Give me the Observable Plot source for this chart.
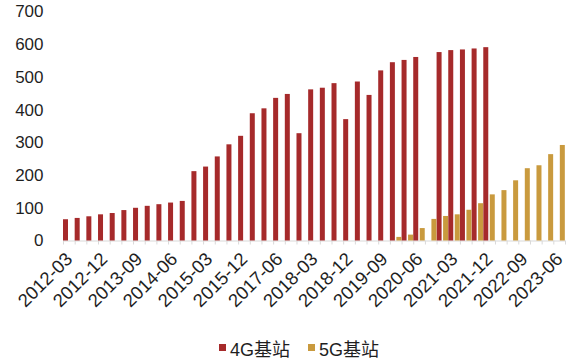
<!DOCTYPE html>
<html><head><meta charset="utf-8">
<script src="https://cdn.jsdelivr.net/npm/d3@7"></script>
<script src="https://cdn.jsdelivr.net/npm/@observablehq/plot@0.6"></script>
<style>
body{margin:0;background:#fff;}
#chart{width:576px;}
#leg{display:flex;justify-content:center;padding-left:40px;width:536px;}
#leg svg{margin-right:4px !important;}
g[aria-label^="x-axis"] text{font-size:18.5px;}
</style></head><body><div id="chart"></div><div id="leg"></div>
<script>
const categories = [
  "2012-03","2012-06","2012-09","2012-12","2013-03","2013-06","2013-09","2013-12",
  "2014-03","2014-06","2014-09","2014-12","2015-03","2015-06","2015-09","2015-12",
  "2016-06","2016-12",
  "2017-06","2017-09","2017-12","2018-03","2018-06","2018-09","2018-12","2019-03",
  "2019-06","2019-09","2019-12","2020-03","2020-06","2020-09","2020-12","2021-03",
  "2021-06","2021-09","2021-12","2022-03","2022-06","2022-09","2022-12","2023-03","2023-06"
];
const fourG = [65,69,74,80,84,93,100,106,111,116,121,212,226,257,294,320,389,404,436,448,
  328,462,467,481,371,486,445,520,545,552,561,null,576,582,584,587,591,
  null,null,null,null,null,null];
const fiveG = [null,null,null,null,null,null,null,null,null,null,null,null,null,null,
  null,null,null,null,null,null,null,null,null,null,null,null,null,null,
  11,18,38,66,75,80,94,114,141,154,184,221,230,264,292];
const yTicks = [0,100,200,300,400,500,600,700];
const labelCats = categories.filter((d,i)=>i%3===0);
const seriesNames = ["4G基站","5G基站"];
const seriesColors = ["#A62A2B","#C99A3E"];

const font = "'Liberation Sans', Arial, 'Noto Sans CJK SC', sans-serif";
const rows4 = categories.map((c,i)=>({date:c, value:fourG[i]})).filter(d=>d.value!=null);
const rows5 = categories.map((c,i)=>({date:c, value:fiveG[i]})).filter(d=>d.value!=null);
const W = 576, ML = 63, MR = 11;
const step = (W - ML - MR) / categories.length;
const last = categories[categories.length-1];

const chart = Plot.plot({
  width: W, height: 331, marginTop: 11.5, marginBottom: 90.5, marginLeft: ML, marginRight: MR,
  style: {fontFamily: font, fontSize: "17px", color: "#1f1f1f", background: "#fff"},
  x: {domain: categories, padding: 0, round: false, ticks: labelCats, tickRotate: -45,
      tickSize: 0, tickPadding: 15, label: null},
  y: {domain: [0,700], ticks: yTicks, tickSize: 0, tickPadding: 20, label: null},
  marks: [
    Plot.ruleY([0], {stroke: "#d9d9d9", strokeWidth: 1}),
    Plot.ruleX(categories, {x: d=>d, y1: 0, y2: 0, insetBottom: -4, dx: -step/2, stroke: "#d9d9d9"}),
    Plot.ruleX([last], {x: d=>d, y1: 0, y2: 0, insetBottom: -4, dx: step/2, stroke: "#d9d9d9"}),
    Plot.barY(rows4, {x: "date", y: "value", fill: seriesColors[0], insetLeft: 0, insetRight: step-5}),
    Plot.barY(rows5, {x: "date", y: "value", fill: seriesColors[1], insetLeft: 6.5, insetRight: step-11.5})
  ]
});
document.getElementById("chart").appendChild(chart);
const leg = Plot.legend({
  color: {type: "categorical", domain: seriesNames, range: seriesColors},
  swatchSize: 7,
  style: {fontFamily: font, fontSize: "18px", color: "#1f1f1f"}
});
document.getElementById("leg").appendChild(leg);
</script>
</body></html>
